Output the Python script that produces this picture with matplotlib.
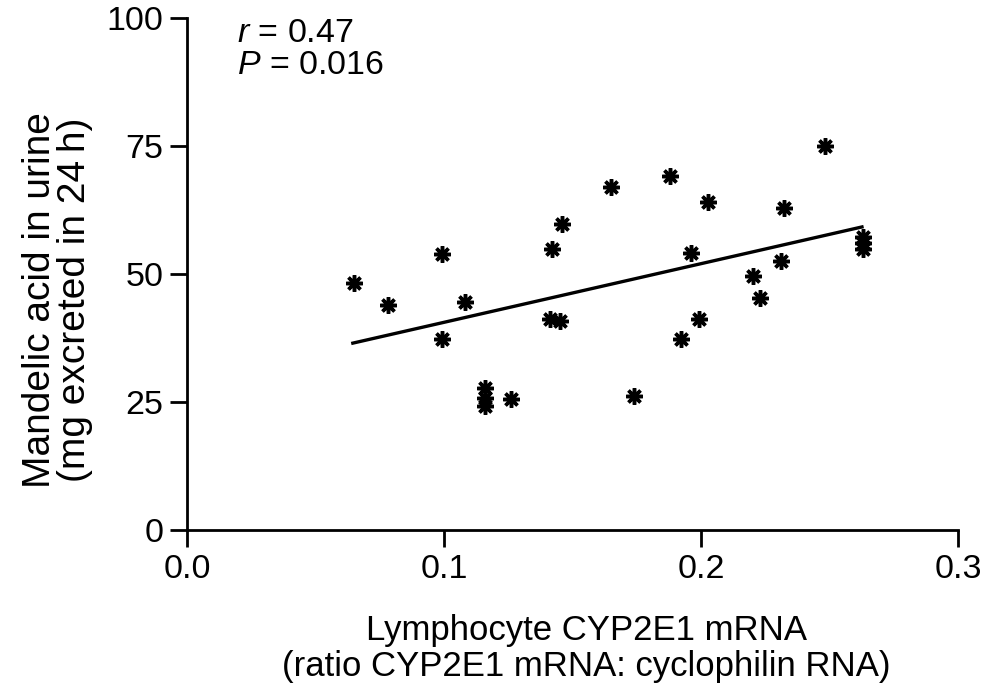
import numpy as np
import matplotlib
matplotlib.use('Agg')
import matplotlib.pyplot as plt

plt.rcParams['font.family'] = 'Liberation Sans'
plt.rcParams['mathtext.fontset'] = 'custom'
plt.rcParams['mathtext.it'] = 'Liberation Sans:italic'
plt.rcParams['mathtext.rm'] = 'Liberation Sans'

# data
mrna = [0.065, 0.078, 0.099, 0.099, 0.108, 0.116, 0.116, 0.116, 0.126,
        0.142, 0.146, 0.141, 0.145, 0.165, 0.174, 0.188, 0.2025, 0.196,
        0.199, 0.192, 0.220, 0.223, 0.232, 0.231, 0.248, 0.263, 0.263, 0.263]
mandelic = [48.3, 44.0, 53.9, 37.4, 44.5, 27.7, 25.8, 24.2, 25.5,
            54.8, 59.7, 41.2, 40.9, 67.1, 26.2, 69.1, 64.1, 54.2,
            41.2, 37.4, 49.7, 45.4, 62.9, 52.5, 75.1, 57.2, 56.0, 54.8]
fit_x = [0.0645, 0.2625]
fit_y = [36.5, 59.2]

xticks = [0.0, 0.1, 0.2, 0.3]
xticklabels = ['0.0', '0.1', '0.2', '0.3']
yticks = [0, 25, 50, 75, 100]

fig = plt.figure(figsize=(9.84, 6.88), dpi=100)
ax = fig.add_axes([0.190, 0.2297, 0.784, 0.744])

ax.plot(fit_x, fit_y, color='black', lw=2.4)
ax.plot(mrna, mandelic, linestyle='none', marker=(8, 2, 0), color='black',
        markersize=12, markeredgewidth=2.5)

ax.set_xlim(0, 0.3)
ax.set_ylim(0, 100)
ax.set_xticks(xticks)
ax.set_xticklabels(xticklabels)
ax.set_yticks(yticks)
for s in ['top', 'right']:
    ax.spines[s].set_visible(False)
for s in ['left', 'bottom']:
    ax.spines[s].set_linewidth(2)
ax.tick_params(direction='out', length=12, width=2, labelsize=24.5, pad=5)

ax.set_xlabel('Lymphocyte CYP2E1 mRNA\n(ratio CYP2E1 mRNA: cyclophilin RNA)',
              fontsize=25, linespacing=1.1)
ax.set_ylabel('Mandelic acid in urine\n(mg excreted in 24\u2009h)',
              fontsize=28, linespacing=0.95)
ax.xaxis.set_label_coords(0.5175, -0.165)
ax.yaxis.set_label_coords(-0.122, 0.449)

ax.text(0.0195, 100, '$r$ = 0.47\n$P$ = 0.016', fontsize=24.5, va='top',
        ha='left', linespacing=1.05)

fig.savefig('out.png', dpi=100)
